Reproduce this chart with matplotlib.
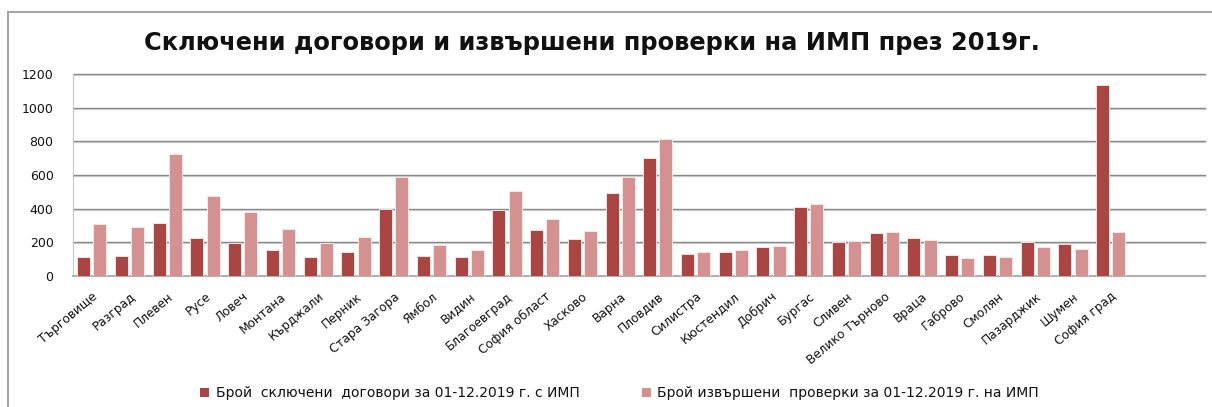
import matplotlib
matplotlib.use("Agg")
import matplotlib.pyplot as plt
import matplotlib.transforms as mtransforms
from matplotlib.lines import Line2D
from matplotlib.patches import Patch
import numpy as np

plt.rcParams['font.family'] = ['DejaVu Sans']

categories = ["Търговище", "Разград", "Плевен", "Русе", "Ловеч", "Монтана", "Кърджали",
              "Перник", "Стара Загора", "Ямбол", "Видин", "Благоевград", "София област",
              "Хасково", "Варна", "Пловдив", "Силистра", "Кюстендил", "Добрич", "Бургас",
              "Сливен", "Велико Търново", "Враца", "Габрово", "Смолян", "Пазарджик",
              "Шумен", "София град"]
contracts = [115, 121, 313, 228, 196, 154, 115, 143, 400, 121, 115, 392, 273, 220,
             491, 699, 129, 141, 172, 412, 200, 253, 226, 123, 123, 202, 188, 1135]
inspections = [307, 293, 727, 477, 378, 279, 196, 234, 588, 182, 154, 503, 339, 265,
               588, 812, 141, 154, 180, 430, 206, 259, 214, 107, 115, 174, 160, 259]
yticks = [0, 200, 400, 600, 800, 1000, 1200]
title = "Сключени договори и извършени проверки на ИМП през 2019г."
legend_labels = ["Брой  сключени  договори за 01-12.2019 г. с ИМП",
                 "Брой извършени  проверки за 01-12.2019 г. на ИМП"]

dark = "#A94543"
light = "#D39291"

W, H = 1212, 407
fig = plt.figure(figsize=(W / 100, H / 100), dpi=100)
ax = fig.add_axes([73 / W, 1 - 276 / H, (1205 - 73) / W, (276 - 74) / H])

x = np.arange(len(categories))
bw = 0.345
off = 0.215
ax.bar(x - off, contracts, width=bw, color=dark, edgecolor="#f3e2e2", linewidth=0.7, zorder=3)
ax.bar(x + off, inspections, width=bw, color=light, edgecolor="#f6e6e6", linewidth=0.7, zorder=3)

ax.set_xlim(-0.5, 29.5)
ax.set_ylim(0, 1200)
ax.set_yticks(yticks)
ax.set_yticklabels([str(v) for v in yticks], fontsize=9, color="#111111")
main_t = mtransforms.blended_transform_factory(ax.transAxes, ax.transData)
shadow_t = main_t + mtransforms.ScaledTranslation(0, -1.0 / 100, fig.dpi_scale_trans)
for v in yticks[1:]:
    ax.plot([0, 1], [v, v], color="#dadada", lw=1.0, zorder=1, transform=shadow_t, clip_on=False)
    ax.plot([0, 1], [v, v], color="#888888", lw=1.0, zorder=1.5, transform=main_t, clip_on=False)
ax.tick_params(axis='y', length=0, pad=14)
ax.tick_params(axis='x', length=0, pad=0)

for s in ["top", "right"]:
    ax.spines[s].set_visible(False)
ax.spines["left"].set_color("#c8c8c8")
ax.spines["left"].set_linewidth(0.8)
ax.spines["bottom"].set_color("#b0b0b0")
ax.spines["bottom"].set_linewidth(1.5)

ax.set_xticks(x)
ax.set_xticklabels(categories, rotation=40, ha="right", va="center",
                   rotation_mode="anchor", fontsize=8.7, color="#111111")
offset = mtransforms.ScaledTranslation(4 / 100, -19 / 100, fig.dpi_scale_trans)
for lab in ax.get_xticklabels():
    lab.set_transform(lab.get_transform() + offset)

fig.text(591.5 / W, 1 - 50 / H, title, ha="center", va="baseline",
         fontsize=17.4, fontweight="bold", color="#111111")

handles = [Patch(facecolor=dark, edgecolor="none"), Patch(facecolor=light, edgecolor="none")]
fig.legend(handles, legend_labels, ncol=2, loc="center", bbox_to_anchor=(619.5 / W, 1 - 393 / H),
           frameon=False, fontsize=10, handlelength=0.65, handleheight=0.6,
           handletextpad=0.45, columnspacing=4.5, borderpad=0, labelcolor="#111111")

# chart frame
fig.add_artist(Line2D([8 / W, 8 / W], [0, 1 - 12 / H], color="#a6a6a6", lw=1.5,
                      transform=fig.transFigure))
fig.add_artist(Line2D([8 / W, 1], [1 - 12 / H, 1 - 12 / H], color="#a6a6a6", lw=1.5,
                      transform=fig.transFigure))

fig.savefig("out.png", dpi=100)
